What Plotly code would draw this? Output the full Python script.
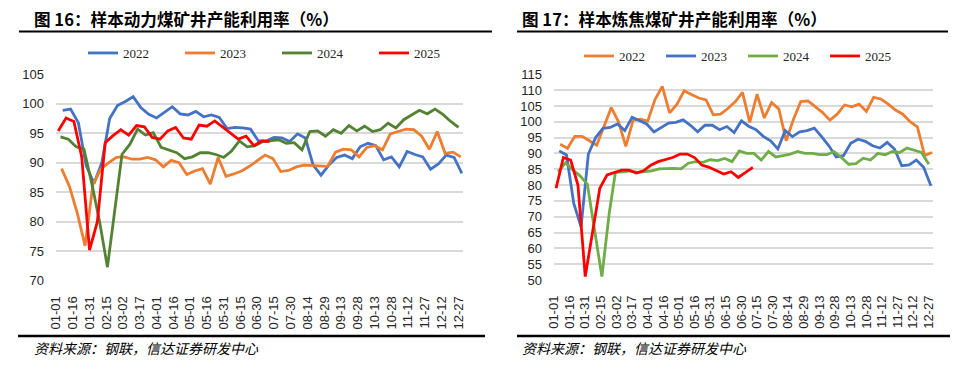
import pandas as pd
import plotly.graph_objects as go

# ---------------- data ----------------
tick_labels = ["01-01", "01-16", "01-31", "02-15", "03-02", "03-17", "04-01", "04-16",
               "05-01", "05-16", "05-31", "06-15", "06-30", "07-15", "07-30", "08-14",
               "08-29", "09-13", "09-28", "10-13", "10-28", "11-12", "11-27", "12-12", "12-27"]
years = ["2022", "2023", "2024", "2025"]
first_dates = ["2022-01-07", "2023-01-06", "2024-01-05", "2025-01-03"]

# 图16 样本动力煤矿井产能利用率 (%)
thermal_2022 = [98.9, 99.1, 96.8, 89.5, 86.5, 90.0, 97.5, 99.7, 100.4, 101.2,
                99.3, 98.2, 97.6, 98.5, 99.5, 98.3, 98.1, 98.7, 97.8, 98.1,
                97.7, 95.8, 96.0, 95.9, 95.7, 93.7, 93.7, 94.3, 94.2, 93.6,
                94.9, 94.2, 89.6, 87.9, 89.6, 90.9, 91.3, 90.7, 92.7, 93.3,
                92.9, 90.5, 91.0, 89.3, 91.9, 91.4, 91.0, 88.9, 89.8, 91.3,
                90.9, 88.2]
thermal_2023 = [89.0, 86.0, 81.5, 75.9, 86.3, 88.9, 90.0, 90.9, 91.0, 90.6,
                90.6, 90.9, 90.5, 89.3, 90.4, 90.0, 88.0, 88.6, 89.0, 86.4,
                90.9, 87.7, 88.1, 88.6, 89.4, 90.3, 91.3, 90.7, 88.5, 88.7,
                89.3, 89.6, 89.5, 89.4, 89.4, 91.8, 92.3, 92.2, 91.0, 92.6,
                92.9, 92.2, 94.9, 95.3, 95.7, 95.6, 94.5, 92.3, 95.3, 91.6,
                91.8, 91.0]
thermal_2024 = [94.4, 94.0, 92.7, 92.3, 86.5, 80.0, 72.3, 82.5, 91.4, 93.1,
                95.7, 94.7, 95.1, 92.6, 92.1, 91.7, 90.7, 91.0, 91.7, 91.7,
                91.4, 90.9, 92.0, 93.7, 92.7, 92.9, 93.6, 93.7, 93.9, 93.3,
                93.4, 92.2, 95.3, 95.4, 94.5, 95.6, 95.0, 96.3, 95.4, 96.2,
                95.3, 95.6, 96.7, 95.9, 97.3, 98.1, 98.9, 98.3, 99.1, 98.2,
                97.0, 96.0]
thermal_2025 = [95.4, 97.6, 97.0, 91.0, 75.2, 80.0, 93.4, 94.6, 95.6, 94.7,
                96.3, 96.1, 94.3, 94.0, 95.4, 96.0, 94.2, 94.0, 96.4, 96.2,
                97.1, 96.1, 95.1, 94.0, 94.5, 92.9, 93.7, 93.6]

# 图17 样本炼焦煤矿井产能利用率 (%)
coking_2022 = [92.9, 91.6, 95.4, 95.4, 94.0, 92.6, 98.5, 104.5, 100.0, 92.2,
               100.5, 100.8, 100.2, 107.0, 111.2, 102.8, 105.5, 109.8, 108.6, 107.5,
               106.9, 102.2, 102.4, 104.2, 106.3, 109.3, 99.8, 108.7, 101.2, 106.1,
               104.0, 94.0, 100.8, 106.4, 106.6, 104.7, 102.9, 100.5, 102.4, 105.3,
               104.7, 105.6, 103.3, 107.7, 107.2, 105.6, 103.7, 102.4, 100.0, 98.4,
               89.3, 90.3]
coking_2023 = [90.8, 89.5, 74.2, 66.8, 89.8, 95.0, 97.9, 98.2, 99.3, 97.2,
               101.4, 100.3, 99.3, 96.8, 98.2, 99.6, 99.8, 100.6, 98.9, 96.8,
               98.9, 98.9, 97.5, 98.5, 96.6, 100.3, 98.6, 97.5, 95.4, 94.0,
               91.4, 97.2, 95.3, 96.8, 97.2, 98.0, 95.3, 92.4, 88.9, 89.3,
               93.2, 94.5, 93.8, 92.4, 91.7, 93.5, 91.4, 86.1, 86.4, 87.9,
               85.6, 79.8]
coking_2024 = [84.2, 87.0, 84.8, 82.9, 80.3, 66.0, 51.1, 71.0, 84.0, 84.2,
               84.5, 84.0, 84.2, 84.5, 85.1, 85.3, 85.3, 85.1, 86.9, 87.4,
               87.2, 88.0, 87.7, 88.4, 87.4, 90.8, 90.0, 90.0, 87.9, 90.6,
               88.9, 89.3, 89.8, 90.6, 90.0, 90.0, 89.6, 89.6, 90.6, 88.7,
               86.6, 86.8, 88.5, 87.9, 90.0, 89.6, 90.6, 90.3, 91.7, 91.0,
               90.3, 86.6]
coking_2025 = [79.0, 88.7, 87.9, 80.0, 51.1, 65.0, 79.0, 83.2, 84.0, 84.7,
               84.7, 83.8, 84.5, 86.3, 87.4, 88.0, 88.7, 89.8, 89.8, 88.7,
               86.3, 85.6, 84.5, 83.5, 84.2, 82.4, 84.0, 85.6]

left_title = "图 16：样本动力煤矿井产能利用率（%）"
right_title = "图 17：样本炼焦煤矿井产能利用率（%）"
source_text = "资料来源：钢联，信达证券研发中心"

# ---------------- helpers ----------------
# the page body keeps the browser's default 8px margin, so the figure is
# drawn 8px in and 8px down inside the 958x369 window
OFF = 8
W, H = 958 - OFF, 369 - OFF


def px_x(p):
    return (p - OFF) / W


def px_y(p):
    return 1 - (p - OFF) / H


def month_day(start, n):
    d = pd.date_range(start, periods=n, freq="7D")
    return [x.replace(year=2001).strftime("%Y-%m-%d") for x in d]


left_series = [thermal_2022, thermal_2023, thermal_2024, thermal_2025]
right_series = [coking_2022, coking_2023, coking_2024, coking_2025]
left_colors = ["#4472C4", "#ED7D31", "#548235", "#FF0000"]
right_colors = ["#ED7D31", "#4472C4", "#70AD47", "#FF0000"]

fig = go.Figure()
for yr, start, vals, col in zip(years, first_dates, left_series, left_colors):
    fig.add_trace(go.Scatter(x=month_day(start, len(vals)), y=vals, name=yr, mode="lines",
                             line=dict(color=col, width=2.8), xaxis="x", yaxis="y",
                             legend="legend"))
for yr, start, vals, col in zip(years, first_dates, right_series, right_colors):
    fig.add_trace(go.Scatter(x=month_day(start, len(vals)), y=vals, name=yr, mode="lines",
                             line=dict(color=col, width=2.8), xaxis="x2", yaxis="y2",
                             legend="legend2"))

tickvals = ["2001-" + t for t in tick_labels]
tick_font = dict(family="Liberation Sans, Arial, sans-serif", size=13, color="#262626")
xcommon = dict(type="date", range=["2001-01-01", "2001-12-31"], tickmode="array",
               tickvals=tickvals, ticktext=tick_labels, tickangle=-90, showgrid=False,
               zeroline=False, showline=False, ticks="", tickfont=tick_font,
               ticklabelstandoff=12, automargin=False)
ycommon = dict(showgrid=True, gridcolor="#D9D9D9", gridwidth=1.5, zeroline=False,
               showline=False, ticks="", tickfont=tick_font, ticklabelstandoff=11,
               automargin=False)
legend_font = dict(family="Liberation Serif, Times New Roman, serif", size=13,
                   color="#262626")

frame_lines = [(19, 492, 31.5, 2), (517, 948, 31.5, 2),
               (18, 485, 336, 2.5), (517, 951, 336, 2.5)]
shapes = [dict(type="line", xref="paper", yref="paper", layer="above",
               x0=px_x(x0), x1=px_x(x1), y0=px_y(y), y1=px_y(y),
               line=dict(color="black", width=w))
          for x0, x1, y, w in frame_lines]

fig.update_layout(
    width=W, height=H, margin=dict(l=0, r=0, t=0, b=0, pad=0, autoexpand=False),
    paper_bgcolor="white", plot_bgcolor="white",
    xaxis=dict(domain=[px_x(56), px_x(463)], anchor="y", **xcommon),
    yaxis=dict(domain=[px_y(280.7), px_y(74.3)], anchor="x", range=[70, 105],
               dtick=5, **ycommon),
    xaxis2=dict(domain=[px_x(554), px_x(933)], anchor="y2", **xcommon),
    yaxis2=dict(domain=[px_y(280), px_y(74.3)], anchor="x2", range=[50, 115],
                dtick=5, **ycommon),
    legend=dict(orientation="h", x=px_x(83), xanchor="left", y=px_y(53), yanchor="middle",
                font=legend_font, entrywidth=52, entrywidthmode="pixels",
                bgcolor="rgba(0,0,0,0)", itemclick=False),
    legend2=dict(orientation="h", x=px_x(579), xanchor="left", y=px_y(56), yanchor="middle",
                 font=legend_font, entrywidth=37, entrywidthmode="pixels",
                 bgcolor="rgba(0,0,0,0)", itemclick=False),
    showlegend=True,
    shapes=shapes,
)

title_font = dict(family="Noto Sans CJK SC, sans-serif", size=16.6, color="#000000", weight=700)
foot_font = dict(family="Noto Sans CJK SC, sans-serif", size=14, color="#000000", style="italic")
fig.add_annotation(text=left_title, x=px_x(32), y=px_y(19), xref="paper", yref="paper",
                   xanchor="left", yanchor="middle", showarrow=False, font=title_font)
fig.add_annotation(text=right_title, x=px_x(520), y=px_y(19), xref="paper", yref="paper",
                   xanchor="left", yanchor="middle", showarrow=False, font=title_font)
fig.add_annotation(text=source_text, x=px_x(32), y=px_y(348), xref="paper", yref="paper",
                   xanchor="left", yanchor="middle", showarrow=False, font=foot_font)
fig.add_annotation(text=source_text, x=px_x(520), y=px_y(348), xref="paper", yref="paper",
                   xanchor="left", yanchor="middle", showarrow=False, font=foot_font)

fig.write_html("out.html")
